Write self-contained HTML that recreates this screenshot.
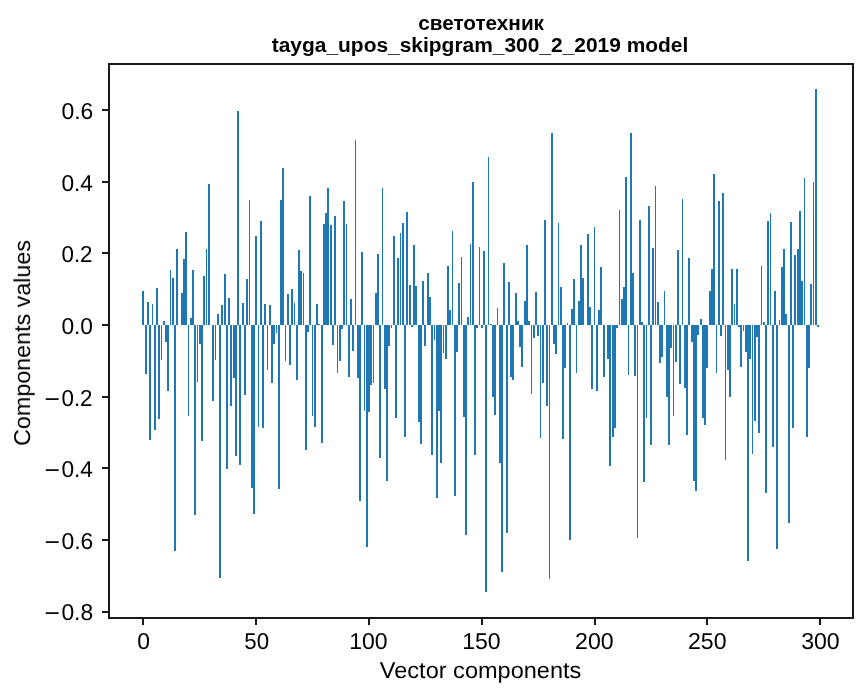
<!DOCTYPE html>
<html><head><meta charset="utf-8"><style>
html,body{margin:0;padding:0;background:#fff;overflow:hidden;}
svg{display:block;}
text{font-family:"Liberation Sans", sans-serif;}
</style></head><body>
<svg width="867" height="696" viewBox="0 0 867 696">
<rect x="0" y="0" width="867" height="696" fill="#fff"/>
<g fill="#1f77b4" shape-rendering="crispEdges">
<rect x="142" y="291" width="2" height="34"/>
<rect x="145" y="325" width="2" height="49"/>
<rect x="147" y="302" width="2" height="23"/>
<rect x="149" y="325" width="2" height="115"/>
<rect x="152" y="304" width="1" height="21"/>
<rect x="154" y="325" width="2" height="105"/>
<rect x="156" y="288" width="2" height="37"/>
<rect x="158" y="325" width="2" height="94"/>
<rect x="161" y="325" width="1" height="35"/>
<rect x="163" y="321" width="2" height="4"/>
<rect x="165" y="325" width="2" height="17"/>
<rect x="167" y="325" width="2" height="66"/>
<rect x="170" y="270" width="1" height="55"/>
<rect x="172" y="278" width="2" height="47"/>
<rect x="174" y="325" width="2" height="226"/>
<rect x="176" y="249" width="2" height="76"/>
<rect x="181" y="293" width="2" height="32"/>
<rect x="183" y="259" width="2" height="66"/>
<rect x="185" y="232" width="2" height="93"/>
<rect x="188" y="325" width="1" height="91"/>
<rect x="190" y="318" width="2" height="7"/>
<rect x="192" y="270" width="2" height="55"/>
<rect x="194" y="325" width="2" height="190"/>
<rect x="197" y="325" width="1" height="57"/>
<rect x="199" y="325" width="2" height="19"/>
<rect x="201" y="325" width="2" height="116"/>
<rect x="203" y="276" width="2" height="49"/>
<rect x="206" y="249" width="1" height="76"/>
<rect x="208" y="184" width="2" height="141"/>
<rect x="212" y="325" width="2" height="76"/>
<rect x="215" y="325" width="1" height="35"/>
<rect x="217" y="314" width="2" height="11"/>
<rect x="219" y="325" width="2" height="253"/>
<rect x="221" y="305" width="2" height="20"/>
<rect x="224" y="274" width="2" height="51"/>
<rect x="226" y="325" width="2" height="144"/>
<rect x="228" y="298" width="2" height="27"/>
<rect x="230" y="325" width="2" height="81"/>
<rect x="233" y="325" width="2" height="53"/>
<rect x="235" y="325" width="2" height="131"/>
<rect x="237" y="111" width="2" height="214"/>
<rect x="239" y="325" width="2" height="140"/>
<rect x="242" y="303" width="2" height="22"/>
<rect x="244" y="325" width="2" height="70"/>
<rect x="246" y="279" width="2" height="46"/>
<rect x="249" y="200" width="1" height="125"/>
<rect x="251" y="325" width="2" height="163"/>
<rect x="253" y="325" width="2" height="189"/>
<rect x="255" y="236" width="2" height="89"/>
<rect x="258" y="325" width="1" height="102"/>
<rect x="260" y="221" width="2" height="104"/>
<rect x="262" y="325" width="2" height="103"/>
<rect x="264" y="304" width="2" height="21"/>
<rect x="267" y="325" width="1" height="45"/>
<rect x="269" y="305" width="2" height="20"/>
<rect x="271" y="325" width="2" height="58"/>
<rect x="273" y="325" width="2" height="19"/>
<rect x="276" y="325" width="1" height="8"/>
<rect x="278" y="325" width="2" height="164"/>
<rect x="280" y="200" width="2" height="125"/>
<rect x="282" y="168" width="2" height="157"/>
<rect x="285" y="325" width="1" height="36"/>
<rect x="287" y="294" width="2" height="31"/>
<rect x="289" y="325" width="2" height="40"/>
<rect x="291" y="289" width="2" height="36"/>
<rect x="294" y="303" width="1" height="22"/>
<rect x="296" y="325" width="2" height="55"/>
<rect x="298" y="250" width="2" height="75"/>
<rect x="300" y="271" width="2" height="54"/>
<rect x="303" y="273" width="1" height="52"/>
<rect x="305" y="325" width="2" height="125"/>
<rect x="307" y="325" width="2" height="7"/>
<rect x="309" y="196" width="2" height="129"/>
<rect x="312" y="325" width="1" height="91"/>
<rect x="314" y="325" width="2" height="102"/>
<rect x="316" y="304" width="2" height="21"/>
<rect x="318" y="324" width="2" height="1"/>
<rect x="321" y="325" width="2" height="118"/>
<rect x="323" y="224" width="2" height="101"/>
<rect x="325" y="213" width="2" height="112"/>
<rect x="327" y="188" width="2" height="137"/>
<rect x="330" y="225" width="2" height="100"/>
<rect x="332" y="325" width="2" height="20"/>
<rect x="334" y="216" width="2" height="109"/>
<rect x="337" y="325" width="1" height="48"/>
<rect x="339" y="325" width="2" height="36"/>
<rect x="341" y="325" width="2" height="4"/>
<rect x="343" y="201" width="2" height="124"/>
<rect x="346" y="224" width="1" height="101"/>
<rect x="348" y="325" width="2" height="52"/>
<rect x="350" y="299" width="2" height="26"/>
<rect x="352" y="325" width="2" height="26"/>
<rect x="355" y="140" width="1" height="185"/>
<rect x="357" y="325" width="2" height="53"/>
<rect x="359" y="325" width="2" height="176"/>
<rect x="361" y="252" width="2" height="73"/>
<rect x="364" y="325" width="1" height="86"/>
<rect x="366" y="325" width="2" height="222"/>
<rect x="368" y="325" width="2" height="87"/>
<rect x="370" y="325" width="2" height="60"/>
<rect x="373" y="325" width="1" height="58"/>
<rect x="375" y="293" width="2" height="32"/>
<rect x="377" y="254" width="2" height="71"/>
<rect x="379" y="325" width="2" height="133"/>
<rect x="382" y="188" width="1" height="137"/>
<rect x="384" y="325" width="2" height="64"/>
<rect x="386" y="325" width="2" height="156"/>
<rect x="388" y="325" width="2" height="21"/>
<rect x="391" y="325" width="1" height="3"/>
<rect x="393" y="236" width="2" height="89"/>
<rect x="395" y="325" width="2" height="93"/>
<rect x="397" y="258" width="2" height="67"/>
<rect x="400" y="233" width="1" height="92"/>
<rect x="402" y="223" width="2" height="102"/>
<rect x="404" y="325" width="2" height="112"/>
<rect x="406" y="212" width="2" height="113"/>
<rect x="409" y="285" width="2" height="40"/>
<rect x="411" y="325" width="2" height="2"/>
<rect x="413" y="245" width="2" height="80"/>
<rect x="415" y="286" width="2" height="39"/>
<rect x="418" y="325" width="2" height="97"/>
<rect x="420" y="325" width="2" height="119"/>
<rect x="422" y="281" width="2" height="44"/>
<rect x="424" y="325" width="2" height="21"/>
<rect x="427" y="273" width="2" height="52"/>
<rect x="429" y="297" width="2" height="28"/>
<rect x="431" y="325" width="2" height="130"/>
<rect x="434" y="325" width="1" height="15"/>
<rect x="436" y="325" width="2" height="173"/>
<rect x="438" y="325" width="2" height="86"/>
<rect x="440" y="325" width="2" height="138"/>
<rect x="443" y="325" width="1" height="28"/>
<rect x="445" y="325" width="2" height="34"/>
<rect x="447" y="266" width="2" height="59"/>
<rect x="449" y="310" width="2" height="15"/>
<rect x="452" y="231" width="1" height="94"/>
<rect x="454" y="325" width="2" height="171"/>
<rect x="456" y="325" width="2" height="27"/>
<rect x="458" y="283" width="2" height="42"/>
<rect x="461" y="257" width="1" height="68"/>
<rect x="463" y="325" width="2" height="92"/>
<rect x="465" y="325" width="2" height="210"/>
<rect x="467" y="317" width="2" height="8"/>
<rect x="470" y="244" width="1" height="81"/>
<rect x="472" y="182" width="2" height="143"/>
<rect x="474" y="325" width="2" height="130"/>
<rect x="476" y="325" width="2" height="3"/>
<rect x="479" y="247" width="1" height="78"/>
<rect x="481" y="325" width="2" height="3"/>
<rect x="483" y="251" width="2" height="74"/>
<rect x="485" y="325" width="2" height="267"/>
<rect x="488" y="157" width="1" height="168"/>
<rect x="490" y="324" width="2" height="1"/>
<rect x="492" y="325" width="2" height="72"/>
<rect x="494" y="325" width="2" height="90"/>
<rect x="497" y="308" width="1" height="17"/>
<rect x="499" y="325" width="2" height="138"/>
<rect x="501" y="325" width="2" height="247"/>
<rect x="503" y="263" width="2" height="62"/>
<rect x="506" y="325" width="2" height="208"/>
<rect x="508" y="282" width="2" height="43"/>
<rect x="510" y="325" width="2" height="52"/>
<rect x="512" y="325" width="2" height="55"/>
<rect x="515" y="293" width="2" height="32"/>
<rect x="517" y="321" width="2" height="4"/>
<rect x="519" y="325" width="2" height="22"/>
<rect x="521" y="325" width="2" height="42"/>
<rect x="524" y="301" width="2" height="24"/>
<rect x="526" y="245" width="2" height="80"/>
<rect x="528" y="321" width="2" height="4"/>
<rect x="531" y="325" width="1" height="69"/>
<rect x="533" y="325" width="2" height="13"/>
<rect x="535" y="292" width="2" height="33"/>
<rect x="537" y="325" width="2" height="11"/>
<rect x="540" y="325" width="1" height="113"/>
<rect x="542" y="325" width="2" height="58"/>
<rect x="544" y="220" width="2" height="105"/>
<rect x="546" y="325" width="2" height="81"/>
<rect x="549" y="325" width="1" height="254"/>
<rect x="551" y="133" width="2" height="192"/>
<rect x="553" y="325" width="2" height="19"/>
<rect x="555" y="325" width="2" height="29"/>
<rect x="558" y="223" width="1" height="102"/>
<rect x="560" y="287" width="2" height="38"/>
<rect x="562" y="325" width="2" height="114"/>
<rect x="564" y="325" width="2" height="43"/>
<rect x="567" y="323" width="1" height="2"/>
<rect x="569" y="325" width="2" height="215"/>
<rect x="571" y="309" width="2" height="16"/>
<rect x="573" y="279" width="2" height="46"/>
<rect x="576" y="325" width="1" height="48"/>
<rect x="578" y="301" width="2" height="24"/>
<rect x="580" y="245" width="2" height="80"/>
<rect x="582" y="278" width="2" height="47"/>
<rect x="587" y="234" width="2" height="91"/>
<rect x="589" y="307" width="2" height="18"/>
<rect x="591" y="325" width="2" height="64"/>
<rect x="594" y="227" width="1" height="98"/>
<rect x="596" y="325" width="2" height="66"/>
<rect x="598" y="310" width="2" height="15"/>
<rect x="600" y="267" width="2" height="58"/>
<rect x="603" y="325" width="2" height="52"/>
<rect x="607" y="325" width="2" height="34"/>
<rect x="609" y="325" width="2" height="141"/>
<rect x="612" y="325" width="2" height="112"/>
<rect x="614" y="325" width="2" height="103"/>
<rect x="616" y="325" width="2" height="3"/>
<rect x="619" y="210" width="1" height="115"/>
<rect x="621" y="299" width="2" height="26"/>
<rect x="623" y="287" width="2" height="38"/>
<rect x="625" y="177" width="2" height="148"/>
<rect x="628" y="325" width="1" height="50"/>
<rect x="630" y="133" width="2" height="192"/>
<rect x="632" y="273" width="2" height="52"/>
<rect x="634" y="325" width="2" height="51"/>
<rect x="637" y="325" width="1" height="213"/>
<rect x="639" y="220" width="2" height="105"/>
<rect x="641" y="322" width="2" height="3"/>
<rect x="643" y="325" width="2" height="157"/>
<rect x="646" y="325" width="1" height="93"/>
<rect x="648" y="206" width="2" height="119"/>
<rect x="650" y="325" width="2" height="120"/>
<rect x="652" y="248" width="2" height="77"/>
<rect x="655" y="186" width="1" height="139"/>
<rect x="657" y="302" width="2" height="23"/>
<rect x="659" y="325" width="2" height="38"/>
<rect x="661" y="325" width="2" height="32"/>
<rect x="664" y="291" width="1" height="34"/>
<rect x="666" y="325" width="2" height="72"/>
<rect x="668" y="325" width="2" height="120"/>
<rect x="670" y="325" width="2" height="23"/>
<rect x="673" y="325" width="1" height="91"/>
<rect x="675" y="325" width="2" height="37"/>
<rect x="677" y="250" width="2" height="75"/>
<rect x="679" y="325" width="2" height="59"/>
<rect x="682" y="199" width="1" height="126"/>
<rect x="684" y="325" width="2" height="63"/>
<rect x="686" y="325" width="2" height="110"/>
<rect x="688" y="258" width="2" height="67"/>
<rect x="691" y="325" width="2" height="17"/>
<rect x="693" y="325" width="2" height="156"/>
<rect x="695" y="325" width="2" height="166"/>
<rect x="697" y="325" width="2" height="10"/>
<rect x="700" y="319" width="2" height="6"/>
<rect x="702" y="325" width="2" height="93"/>
<rect x="704" y="325" width="2" height="100"/>
<rect x="706" y="325" width="2" height="43"/>
<rect x="709" y="291" width="2" height="34"/>
<rect x="711" y="269" width="2" height="56"/>
<rect x="713" y="174" width="2" height="151"/>
<rect x="716" y="325" width="1" height="48"/>
<rect x="718" y="201" width="2" height="124"/>
<rect x="720" y="325" width="2" height="11"/>
<rect x="722" y="193" width="2" height="132"/>
<rect x="725" y="325" width="1" height="135"/>
<rect x="727" y="325" width="2" height="45"/>
<rect x="729" y="325" width="2" height="72"/>
<rect x="731" y="269" width="2" height="56"/>
<rect x="734" y="304" width="1" height="21"/>
<rect x="736" y="269" width="2" height="56"/>
<rect x="738" y="325" width="2" height="2"/>
<rect x="740" y="325" width="2" height="42"/>
<rect x="743" y="325" width="1" height="6"/>
<rect x="745" y="325" width="2" height="27"/>
<rect x="747" y="325" width="2" height="236"/>
<rect x="749" y="325" width="2" height="34"/>
<rect x="752" y="325" width="1" height="129"/>
<rect x="754" y="325" width="2" height="96"/>
<rect x="756" y="325" width="2" height="12"/>
<rect x="758" y="325" width="2" height="108"/>
<rect x="761" y="266" width="1" height="59"/>
<rect x="763" y="322" width="2" height="3"/>
<rect x="765" y="325" width="2" height="168"/>
<rect x="767" y="221" width="2" height="104"/>
<rect x="770" y="213" width="1" height="112"/>
<rect x="772" y="325" width="2" height="122"/>
<rect x="774" y="291" width="2" height="34"/>
<rect x="776" y="325" width="2" height="224"/>
<rect x="779" y="320" width="1" height="5"/>
<rect x="781" y="267" width="2" height="58"/>
<rect x="783" y="249" width="2" height="76"/>
<rect x="785" y="314" width="2" height="11"/>
<rect x="788" y="325" width="2" height="198"/>
<rect x="790" y="222" width="2" height="103"/>
<rect x="792" y="325" width="2" height="103"/>
<rect x="794" y="255" width="2" height="70"/>
<rect x="797" y="249" width="2" height="76"/>
<rect x="799" y="211" width="2" height="114"/>
<rect x="801" y="281" width="2" height="44"/>
<rect x="804" y="178" width="1" height="147"/>
<rect x="806" y="325" width="2" height="112"/>
<rect x="808" y="325" width="2" height="43"/>
<rect x="810" y="284" width="2" height="41"/>
<rect x="813" y="182" width="1" height="143"/>
<rect x="815" y="89" width="2" height="236"/>
<rect x="817" y="325" width="2" height="2"/>
</g>
<g fill="#1a1a1a" shape-rendering="crispEdges">
<rect x="102" y="109" width="7" height="2"/>
<rect x="102" y="181" width="7" height="2"/>
<rect x="102" y="252" width="7" height="2"/>
<rect x="102" y="324" width="7" height="2"/>
<rect x="102" y="396" width="7" height="2"/>
<rect x="102" y="467" width="7" height="2"/>
<rect x="102" y="539" width="7" height="2"/>
<rect x="102" y="611" width="7" height="2"/>
<rect x="142" y="618" width="2" height="6.8"/>
<rect x="255" y="618" width="2" height="6.8"/>
<rect x="368" y="618" width="2" height="6.8"/>
<rect x="481" y="618" width="2" height="6.8"/>
<rect x="594" y="618" width="2" height="6.8"/>
<rect x="706" y="618" width="2" height="6.8"/>
<rect x="819" y="618" width="2" height="6.8"/>
<rect x="108" y="63" width="2" height="556"/>
<rect x="852" y="63" width="2" height="556"/>
<rect x="108" y="63" width="746" height="2"/>
<rect x="108" y="617" width="746" height="2"/>
</g>
<g fill="#000" style="filter:grayscale(1)">
<text transform="translate(418.17,29.80) scale(0.9960,1)" font-size="20.83" font-weight="bold">светотехник</text>
<text transform="translate(271.74,51.90) scale(1.0056,1)" font-size="20.83" font-weight="bold">tayga_upos_skipgram_300_2_2019 model</text>
<text transform="translate(61.43,119.00) scale(0.9954,1)" font-size="23.0" text-rendering="geometricPrecision">0.6</text>
<text transform="translate(61.43,191.00) scale(0.9853,1)" font-size="23.0" text-rendering="geometricPrecision">0.4</text>
<text transform="translate(61.45,262.00) scale(0.9716,1)" font-size="23.0" text-rendering="geometricPrecision">0.2</text>
<text transform="translate(61.43,334.00) scale(0.9869,1)" font-size="23.0" text-rendering="geometricPrecision">0.0</text>
<text transform="translate(61.45,406.00) scale(0.9716,1)" font-size="23.0" text-rendering="geometricPrecision">0.2</text>
<text transform="translate(61.43,477.00) scale(0.9853,1)" font-size="23.0" text-rendering="geometricPrecision">0.4</text>
<text transform="translate(61.43,549.00) scale(0.9954,1)" font-size="23.0" text-rendering="geometricPrecision">0.6</text>
<text transform="translate(61.43,620.00) scale(0.9914,1)" font-size="23.0" text-rendering="geometricPrecision">0.8</text>
<text transform="translate(137.18,649.00) scale(0.9941,1)" font-size="23.0" text-rendering="geometricPrecision">0</text>
<text transform="translate(244.26,649.00) scale(0.9677,1)" font-size="23.0" text-rendering="geometricPrecision">50</text>
<text transform="translate(349.21,649.00) scale(1.0011,1)" font-size="23.0" text-rendering="geometricPrecision">100</text>
<text transform="translate(462.19,649.00) scale(1.0017,1)" font-size="23.0" text-rendering="geometricPrecision">150</text>
<text transform="translate(575.12,649.00) scale(1.0035,1)" font-size="23.0" text-rendering="geometricPrecision">200</text>
<text transform="translate(688.02,649.00) scale(1.0035,1)" font-size="23.0" text-rendering="geometricPrecision">250</text>
<text transform="translate(801.14,649.00) scale(1.0044,1)" font-size="23.0" text-rendering="geometricPrecision">300</text>
<text transform="translate(379.86,678.00) scale(1.0233,1)" font-size="23.0" text-rendering="geometricPrecision">Vector components</text>
<text transform="translate(30.0,445.86) rotate(-90) scale(1.0126,1)" font-size="23.0" text-rendering="geometricPrecision">Components values</text>
<rect x="45.75" y="398.25" width="12.91" height="1.7"/>
<rect x="45.75" y="469.25" width="12.91" height="1.7"/>
<rect x="45.75" y="541.25" width="12.91" height="1.7"/>
<rect x="45.75" y="612.25" width="12.91" height="1.7"/>
</g>
</svg>
</body></html>
